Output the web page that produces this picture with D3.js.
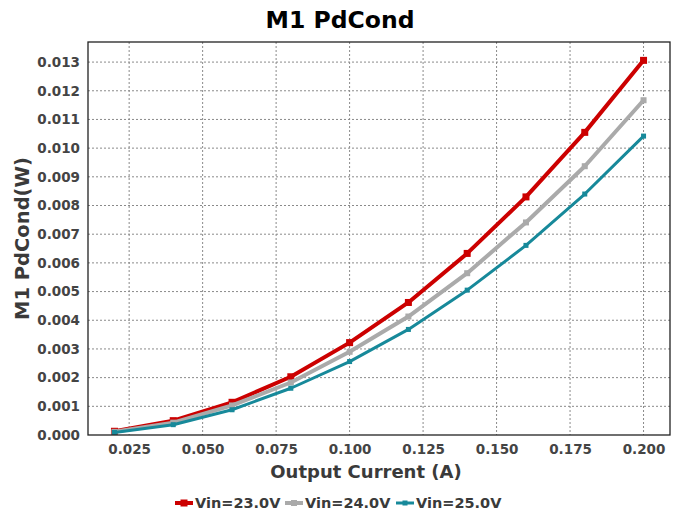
<!DOCTYPE html>
<html>
<head>
<meta charset="utf-8">
<script src="https://cdn.jsdelivr.net/npm/d3@7"></script>
<style>
  body { margin: 0; background: #fff; }
  svg { font-family: "DejaVu Sans", sans-serif; font-weight: bold; }
</style>
</head>
<body>
<div id="chart"></div>
<script>
var current = [0.02, 0.04, 0.06, 0.08, 0.10, 0.12, 0.14, 0.16, 0.18, 0.20];
var vin23 = [0.00013, 0.00050, 0.00114, 0.00203, 0.00322, 0.00462, 0.00633, 0.00830, 0.01055, 0.01306];
var vin24 = [0.00011, 0.00043, 0.00103, 0.00183, 0.00290, 0.00413, 0.00564, 0.00741, 0.00937, 0.01167];
var vin25 = [0.00009, 0.00036, 0.00088, 0.00163, 0.00256, 0.00368, 0.00505, 0.00661, 0.00840, 0.01042];
var seriesNames = ["Vin=23.0V", "Vin=24.0V", "Vin=25.0V"];
var xTicks = [0.025, 0.050, 0.075, 0.100, 0.125, 0.150, 0.175, 0.200];
var yTicks = [0, 0.001, 0.002, 0.003, 0.004, 0.005, 0.006, 0.007, 0.008, 0.009, 0.010, 0.011, 0.012, 0.013];

var W = 681, H = 516;
var plotLeft = 88, plotRight = 670, plotTop = 42, plotBottom = 435;

var series = [
    { name: seriesNames[0], values: vin23, color: "#cc0000", width: 4, marker: 7 },
    { name: seriesNames[1], values: vin24, color: "#aaaaaa", width: 4, marker: 6 },
    { name: seriesNames[2], values: vin25, color: "#17899a", width: 3, marker: 5 }
];

var x = d3.scaleLinear().domain([0.011, 0.209]).range([plotLeft, plotRight]);
var y = d3.scaleLinear().domain([0, 0.0137]).range([plotBottom, plotTop]);

var svg = d3.select("#chart").append("svg")
    .attr("width", W)
    .attr("height", H);

// grid
svg.append("g").selectAll("line")
    .data(xTicks).enter().append("line")
    .attr("x1", function(d) { return x(d); })
    .attr("x2", function(d) { return x(d); })
    .attr("y1", plotTop).attr("y2", plotBottom)
    .attr("stroke", "#8a8a8a").attr("stroke-width", 1)
    .attr("stroke-dasharray", "2,2");
svg.append("g").selectAll("line")
    .data(yTicks.slice(1)).enter().append("line")
    .attr("x1", plotLeft).attr("x2", plotRight)
    .attr("y1", function(d) { return y(d); })
    .attr("y2", function(d) { return y(d); })
    .attr("stroke", "#8a8a8a").attr("stroke-width", 1)
    .attr("stroke-dasharray", "2,2");

// axes
var xAxis = svg.append("g")
    .attr("transform", "translate(0," + plotBottom + ")")
    .call(d3.axisBottom(x).tickValues(xTicks).tickFormat(d3.format(".3f")).tickSize(0).tickPadding(9));
var yAxis = svg.append("g")
    .attr("transform", "translate(" + plotLeft + ",0)")
    .call(d3.axisLeft(y).tickValues(yTicks).tickFormat(d3.format(".3f")).tickSize(0).tickPadding(8));
[xAxis, yAxis].forEach(function(a) {
    a.select(".domain").remove();
    a.selectAll("text")
        .attr("font-family", "DejaVu Sans")
        .attr("font-weight", "bold")
        .attr("font-size", 13.5)
        .attr("fill", "#444");
});

// lines
var line = d3.line()
    .x(function(d, i) { return x(current[i]); })
    .y(function(d) { return y(d); });

series.forEach(function(s) {
    var g = svg.append("g");
    g.append("path")
        .datum(s.values)
        .attr("d", line)
        .attr("fill", "none")
        .attr("stroke", s.color)
        .attr("stroke-width", s.width)
        .attr("stroke-linejoin", "round");
    g.selectAll("rect")
        .data(s.values).enter().append("rect")
        .attr("x", function(d, i) { return x(current[i]) - s.marker / 2; })
        .attr("y", function(d) { return y(d) - s.marker / 2; })
        .attr("width", s.marker)
        .attr("height", s.marker)
        .attr("fill", s.color);
});

// frame
svg.append("rect")
    .attr("x", plotLeft).attr("y", plotTop)
    .attr("width", plotRight - plotLeft).attr("height", plotBottom - plotTop)
    .attr("fill", "none")
    .attr("stroke", "#222")
    .attr("stroke-width", 1.3);

// title
svg.append("text")
    .attr("x", 340)
    .attr("y", 28)
    .attr("text-anchor", "middle")
    .attr("font-size", 23.5)
    .attr("fill", "#000")
    .text("M1 PdCond");

svg.append("text")
    .attr("x", 366)
    .attr("y", 478)
    .attr("text-anchor", "middle")
    .attr("font-size", 18)
    .attr("fill", "#3a3a3a")
    .text("Output Current (A)");

svg.append("text")
    .attr("transform", "translate(29," + ((plotTop + plotBottom) / 2) + ") rotate(-90)")
    .attr("text-anchor", "middle")
    .attr("font-size", 19.5)
    .attr("fill", "#3a3a3a")
    .text("M1 PdCond(W)");

// legend
var legendX = [175, 285, 396];
var legend = svg.append("g");
series.forEach(function(s, i) {
    var lx = legendX[i];
    legend.append("line")
        .attr("x1", lx).attr("x2", lx + 18)
        .attr("y1", 503).attr("y2", 503)
        .attr("stroke", s.color)
        .attr("stroke-width", s.width);
    legend.append("rect")
        .attr("x", lx + 9 - s.marker / 2)
        .attr("y", 503 - s.marker / 2)
        .attr("width", s.marker).attr("height", s.marker)
        .attr("fill", s.color);
    legend.append("text")
        .attr("x", lx + 20)
        .attr("y", 508)
        .attr("font-size", 14.5)
        .attr("fill", "#3a3a3a")
        .text(s.name);
});
</script>
</body>
</html>
